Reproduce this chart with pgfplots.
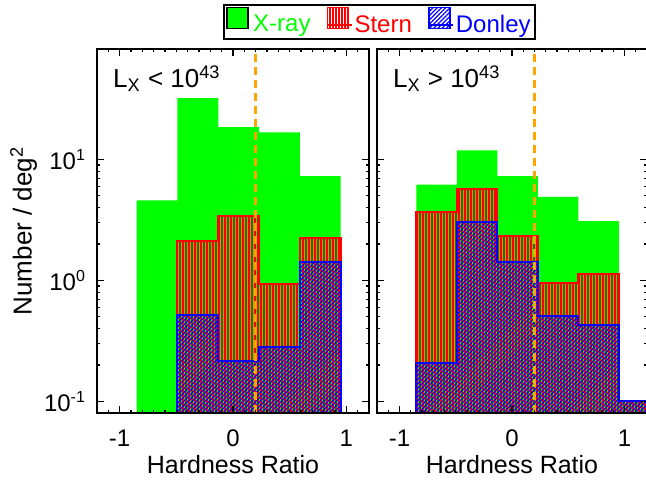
\documentclass[border=0pt]{standalone}
\usepackage{pgfplots}
\pgfplotsset{compat=1.18}
\usepackage{fontspec}
\setmainfont{Liberation Sans}
\usetikzlibrary{patterns.meta}
\definecolor{xgreen}{RGB}{0,255,0}
\definecolor{xred}{RGB}{255,0,0}
\definecolor{xblue}{RGB}{0,0,255}
\definecolor{xorange}{RGB}{255,165,0}

\pgfplotsset{legend image code/.code={\draw[#1,line width=0.8pt] (0pt,-1.7pt) rectangle (10.5pt,8.8pt); \path (0pt,0pt) -- (12pt,0pt);}}

\begin{document}
\begin{tikzpicture}
% ---------------- left panel: L_X < 10^43
\begin{axis}[
  scale only axis, height=182pt, at={(48.5pt,33pt)}, anchor=south west, width=136pt,
  ymode=log, xmin=-1.2, xmax=1.2, ymin=0.08, ymax=82,
  xtick={-1,0,1}, xticklabels={-1,0,1},
  minor xtick={-1.2,-1.1,...,1.25},
  ytick={0.1,1,10},
  tick align=inside, major tick length=3.5pt, minor tick length=1.6pt,
  tick style={black, line width=0.6pt},
  axis line style={line width=0.8pt},
  axis on top,
  xticklabel style={font=\fontsize{12}{14}\selectfont, yshift=-5pt},
  yticklabel style={font=\fontsize{12}{14}\selectfont, xshift=-2pt},
  xlabel={Hardness Ratio},
  xlabel style={font=\fontsize{12.5}{14}\selectfont, at={(axis description cs:0.5,0)}, anchor=center, yshift=-26pt},
  yticklabels={10\textsuperscript{-1},10\textsuperscript{0},10\textsuperscript{1}},
  ylabel={Number / deg\textsuperscript{2}},
  ylabel style={font=\fontsize{13}{15}\selectfont, at={(axis description cs:-0.27,0.5)}, anchor=center},
  legend style={at={(1.0386,1.074)}, anchor=center, draw=black, line width=0.9pt, fill=white,
    font=\fontsize{12}{14}\selectfont, legend columns=3, inner sep=1pt,
    nodes={inner sep=1pt},
    /tikz/every even column/.append style={column sep=7pt}},
]
\addplot[const plot, fill=xgreen, draw=none] coordinates {(-0.85,0.08)(-0.85,4.6)(-0.49,32.2)(-0.13,18.5)(0.23,16.8)(0.59,7.3)(0.95,7.3)(0.95,0.08)} -- cycle;
\addlegendentry{\textcolor{xgreen}{X-ray}}
\addplot[const plot, draw=xred, line width=1pt, pattern={Lines[angle=90,distance=1.5pt,line width=0.7pt]}, pattern color=xred] coordinates {(-0.49,0.08)(-0.49,2.12)(-0.13,3.42)(0.23,0.94)(0.59,2.26)(0.95,2.26)(0.95,0.08)} -- cycle;
\addlegendentry{\textcolor{xred}{Stern}}
\addplot[const plot, draw=xblue, line width=1pt, pattern={Lines[angle=45,distance=1.5pt,line width=0.6pt]}, pattern color=xblue] coordinates {(-0.49,0.08)(-0.49,0.52)(-0.13,0.217)(0.23,0.28)(0.59,1.42)(0.95,1.42)(0.95,0.08)} -- cycle;
\addlegendentry{\textcolor{xblue}{Donley}}
\addplot[xorange, line width=1.3pt, dash pattern=on 4pt off 2.5pt, forget plot] coordinates {(0.2,0.08)(0.2,82)};
\node[anchor=north west, font=\fontsize{13}{15}\selectfont, inner sep=0pt] at (rel axis cs:0.058,0.955) {L\textsubscript{X} < 10\textsuperscript{43}};
\end{axis}
% ---------------- right panel: L_X > 10^43
\begin{axis}[
  scale only axis, height=182pt, at={(188.5pt,33pt)}, anchor=south west, width=135pt,
  ymode=log, xmin=-1.2, xmax=1.2, ymin=0.08, ymax=82,
  xtick={-1,0,1}, xticklabels={-1,0,1},
  minor xtick={-1.2,-1.1,...,1.25},
  ytick={0.1,1,10}, yticklabels={},
  tick align=inside, major tick length=3.5pt, minor tick length=1.6pt,
  tick style={black, line width=0.6pt},
  axis line style={line width=0.8pt},
  axis on top,
  xticklabel style={font=\fontsize{12}{14}\selectfont, yshift=-5pt},
  xlabel={Hardness Ratio},
  xlabel style={font=\fontsize{12.5}{14}\selectfont, at={(axis description cs:0.5,0)}, anchor=center, yshift=-26pt},
]
\addplot[const plot, fill=xgreen, draw=none] coordinates {(-0.85,0.08)(-0.85,6.2)(-0.49,11.9)(-0.13,7.3)(0.23,4.9)(0.59,3.09)(0.95,0.1)(1.31,0.1)(1.31,0.08)} -- cycle;
\addplot[const plot, draw=xred, line width=1pt, pattern={Lines[angle=90,distance=1.5pt,line width=0.7pt]}, pattern color=xred] coordinates {(-0.85,0.08)(-0.85,3.7)(-0.49,5.7)(-0.13,2.33)(0.23,0.96)(0.59,1.12)(0.95,0.1)(1.31,0.1)(1.31,0.08)} -- cycle;
\addplot[const plot, draw=xblue, line width=1pt, pattern={Lines[angle=45,distance=1.5pt,line width=0.6pt]}, pattern color=xblue] coordinates {(-0.85,0.08)(-0.85,0.206)(-0.49,3.05)(-0.13,1.42)(0.23,0.51)(0.59,0.43)(0.95,0.1)(1.31,0.1)(1.31,0.08)} -- cycle;
\addplot[xorange, line width=1.3pt, dash pattern=on 4pt off 2.5pt] coordinates {(0.2,0.08)(0.2,82)};
\node[anchor=north west, font=\fontsize{13}{15}\selectfont, inner sep=0pt] at (rel axis cs:0.058,0.955) {L\textsubscript{X} > 10\textsuperscript{43}};
\end{axis}
\pgfresetboundingbox
\useasboundingbox (0,0) rectangle (323pt,239.5pt);
\end{tikzpicture}
\end{document}
